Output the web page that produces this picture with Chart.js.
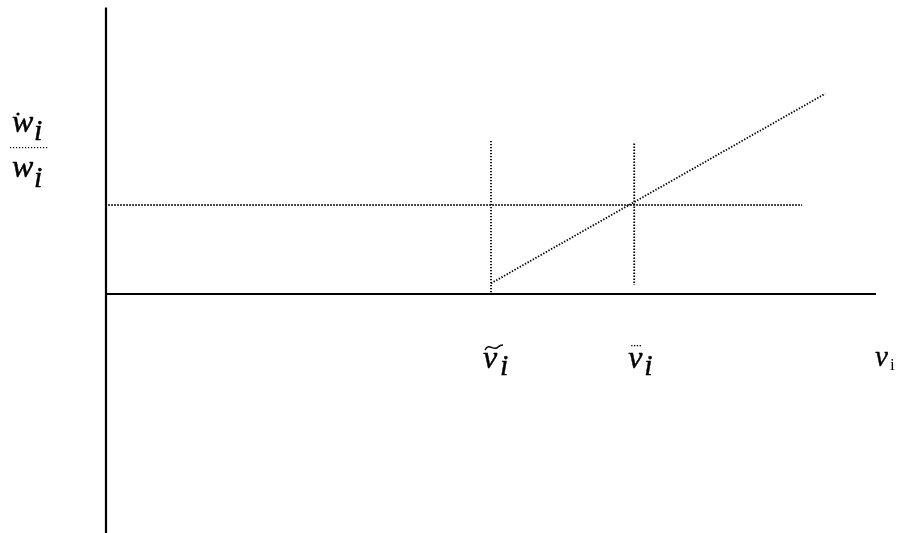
<!DOCTYPE html>
<html>
<head>
<meta charset="utf-8">
<script src="https://cdn.jsdelivr.net/npm/chart.js@4/dist/chart.umd.min.js"></script>
<style>
  html, body { margin: 0; padding: 0; background: #fff; }
  #wrap { width: 900px; height: 533px; position: relative; }
</style>
</head>
<body>
<div id="wrap"><canvas id="c"></canvas></div>
<script>
// Thresholds on the v axis and the growth-rate level (abstract units)
const vTilde = 5.0;          // ṽ_i
const vBar = 6.86;           // v⃛_i
const growthLevel = 1.0;     // ẇ_i / w_i reference level

// Axis extents
const xAxisSpan = [0, 10];
const yAxisSpan = [-2.69, 3.22];

// Dotted guide lines
const levelLine = [{ x: 0.03, y: growthLevel }, { x: 9.04, y: growthLevel }];
const tildeGuide = [{ x: vTilde, y: 1.72 }, { x: vTilde, y: 0.0 }];
const barGuide = [{ x: vBar, y: 1.69 }, { x: vBar, y: 0.10 }];
const rising = [{ x: vTilde, y: 0.12 }, { x: 9.34, y: 2.25 }];

// Visible window of the plane
const xRange = [-1.3766, 10.3117];
const yRange = [-2.6854, 3.3034];

const solid = { borderColor: '#000', borderWidth: 2.2, pointRadius: 0, showLine: true, fill: false, clip: false };
const dotted = { borderColor: '#000', borderWidth: 1.8, borderDash: [1.4, 1.6], pointRadius: 0, showLine: true, fill: false, clip: false };

const SERIF = '"Liberation Serif", "Times New Roman", serif';
const it = (s) => 'italic ' + s + 'px ' + SERIF;

// Slightly heavier glyphs: fill plus a hairline stroke
function heavyText(ctx, s, x, y) {
  ctx.fillText(s, x, y);
  ctx.strokeText(s, x, y);
}

// Math-style labels placed through the scales
const labelsPlugin = {
  id: 'mathLabels',
  afterDatasetsDraw(chart) {
    const ctx = chart.ctx;
    const xs = chart.scales.x, ys = chart.scales.y;
    ctx.save();
    ctx.fillStyle = '#000';
    ctx.strokeStyle = '#000';
    ctx.textBaseline = 'alphabetic';
    ctx.textAlign = 'left';
    ctx.lineJoin = 'round';

    const base = ys.getPixelForValue(0) + 74;

    // ṽ_i under the first threshold
    let px = xs.getPixelForValue(vTilde);
    ctx.lineWidth = 0.45;
    ctx.font = it(32);
    heavyText(ctx, 'v', px - 8, base);
    ctx.font = it(30);
    heavyText(ctx, 'i', px + 9, base + 7);
    ctx.lineWidth = 1.5;
    ctx.beginPath();
    ctx.moveTo(px - 6, base - 18);
    ctx.bezierCurveTo(px - 2, base - 26, px + 3, base - 16, px + 7, base - 21);
    ctx.bezierCurveTo(px + 9, base - 23, px + 11, base - 23, px + 12, base - 23);
    ctx.stroke();

    // v⃛_i under the second threshold
    px = xs.getPixelForValue(vBar);
    ctx.lineWidth = 0.45;
    ctx.font = it(32);
    heavyText(ctx, 'v', px - 6, base);
    ctx.font = it(30);
    heavyText(ctx, 'i', px + 10, base + 7);
    for (let k = 0; k < 4; k++) {
      ctx.fillRect(px - 3 + k * 2.8, base - 23, 1.3, 1.3);
    }

    // v_i at the end of the horizontal axis
    px = xs.getPixelForValue(xAxisSpan[1]);
    ctx.lineWidth = 0.4;
    ctx.font = it(29);
    heavyText(ctx, 'v', px - 1, base - 2);
    ctx.font = '17px ' + SERIF;
    ctx.fillText('i', px + 14, base + 2);

    // ẇ_i / w_i beside the vertical axis
    const yLvl = ys.getPixelForValue(growthLevel);
    const fx = 12;
    ctx.lineWidth = 0.45;
    ctx.font = it(32);
    heavyText(ctx, 'w', fx, yLvl - 73);
    ctx.font = it(30);
    heavyText(ctx, 'i', fx + 22, yLvl - 65);
    ctx.beginPath();
    ctx.arc(fx + 6, yLvl - 91, 1.6, 0, Math.PI * 2);
    ctx.fill();
    for (let k = 0; k < 13; k++) {
      ctx.fillRect(fx - 2 + k * 3, yLvl - 58, 1.2, 1.2);
    }
    ctx.font = it(32);
    heavyText(ctx, 'w', fx, yLvl - 28);
    ctx.font = it(30);
    heavyText(ctx, 'i', fx + 22, yLvl - 18);
    ctx.restore();
  }
};

function draw() {
  new Chart(document.getElementById('c'), {
    type: 'scatter',
    data: {
      datasets: [
        Object.assign({ data: [{ x: 0, y: yAxisSpan[0] }, { x: 0, y: yAxisSpan[1] }] }, solid),
        Object.assign({ data: [{ x: xAxisSpan[0], y: 0 }, { x: xAxisSpan[1], y: 0 }] }, solid),
        Object.assign({ data: levelLine }, dotted),
        Object.assign({ data: tildeGuide }, dotted),
        Object.assign({ data: barGuide }, dotted),
        Object.assign({ data: rising }, dotted)
      ]
    },
    options: {
      responsive: true,
      maintainAspectRatio: false,
      animation: false,
      layout: { padding: 0 },
      plugins: { legend: { display: false }, tooltip: { enabled: false } },
      scales: {
        x: { type: 'linear', display: false, min: xRange[0], max: xRange[1] },
        y: { type: 'linear', display: false, min: yRange[0], max: yRange[1] }
      }
    },
    plugins: [labelsPlugin]
  });
}

Promise.all([
  document.fonts.load(it(32)),
  document.fonts.load('17px ' + SERIF)
]).then(draw, draw);
</script>
</body>
</html>
